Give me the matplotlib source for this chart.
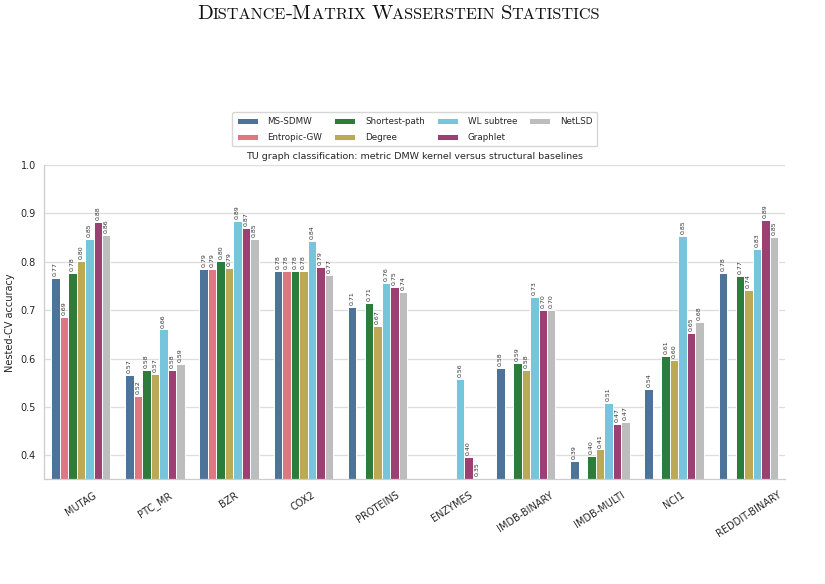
import numpy as np
import matplotlib
matplotlib.use("Agg")
import matplotlib.pyplot as plt
import seaborn as sns

datasets = ["MUTAG", "PTC_MR", "BZR", "COX2", "PROTEINS", "ENZYMES",
            "IMDB-BINARY", "IMDB-MULTI", "NCI1", "REDDIT-BINARY"]
methods = ["MS-SDMW", "Entropic-GW", "Shortest-path", "Degree",
           "WL subtree", "Graphlet", "NetLSD"]
nan = np.nan
ms_sdmw   = [0.766, 0.566, 0.785, 0.781, 0.707, nan,   0.581, 0.389, 0.537, 0.777]
entropic  = [0.686, 0.522, 0.786, 0.781, nan,   nan,   nan,   nan,   nan,   nan]
shortest  = [0.776, 0.577, 0.801, 0.781, 0.715, nan,   0.591, 0.398, 0.606, 0.771]
degree    = [0.802, 0.569, 0.788, 0.781, 0.667, nan,   0.576, 0.412, 0.597, 0.741]
wl        = [0.847, 0.660, 0.885, 0.843, 0.757, 0.558, 0.727, 0.509, 0.853, 0.826]
graphlet  = [0.883, 0.576, 0.870, 0.789, 0.748, 0.396, 0.700, 0.465, 0.652, 0.886]
netlsd    = [0.856, 0.589, 0.847, 0.772, 0.738, 0.354, 0.700, 0.469, 0.676, 0.852]
colors = ["#4e7399", "#df7782", "#2e7c3b", "#bba956", "#77c5dd", "#9c3f72", "#bdbdbd"]

sns.set_style("whitegrid")
plt.rcParams['font.family'] = ['DejaVu Sans']

fig = plt.figure(figsize=(8.25, 5.84), dpi=100)
ax = fig.add_axes([0.053, 0.179, 0.899, 0.5385])

wyniki = [ms_sdmw, entropic, shortest, degree, wl, graphlet, netlsd]
x = np.arange(len(datasets))
w = 0.8 / len(methods)
for k, (nazwa, wart) in enumerate(zip(methods, wyniki)):
    pos = x - 0.4 + w * (k + 0.5)
    wart = np.array(wart)
    ax.bar(pos, wart - 0.35, bottom=0.35, width=w, color=colors[k],
           edgecolor="white", linewidth=0.7, label=nazwa)
    for xi, v in zip(pos, wart):
        if not np.isnan(v):
            ax.text(xi, v + 0.004, f"{v:.2f}", rotation=90, ha="center",
                    va="bottom", fontsize=4.5, color="#333333")

ax.set_xlim(-0.5, len(datasets) - 0.5)
ax.set_ylim(0.35, 1.0)
ax.set_yticks([0.4, 0.5, 0.6, 0.7, 0.8, 0.9, 1.0])
ax.set_xticks(x)
ax.set_xticklabels(datasets, rotation=33, ha="center", fontsize=7, color="#262626")
ax.tick_params(axis="y", labelsize=7, colors="#262626", pad=2)
ax.tick_params(axis="x", pad=4)
ax.set_ylabel("Nested-CV accuracy", fontsize=7, color="#262626", labelpad=4)
ax.grid(axis="x", visible=False)
ax.grid(axis="y", color="#dddddd", linewidth=0.9)
ax.set_axisbelow(True)
for s in ["top", "right"]:
    ax.spines[s].set_visible(False)
for s in ["left", "bottom"]:
    ax.spines[s].set_color("#cccccc")
    ax.spines[s].set_linewidth(0.9)
ax.set_title("TU graph classification: metric DMW kernel versus structural baselines",
             fontsize=6.8, color="#262626", pad=4)
ax.legend(ncol=4, loc="lower center", bbox_to_anchor=(0.5, 1.045), fontsize=6.3,
          frameon=True, edgecolor="#cccccc", handlelength=2.4, columnspacing=1.4,
          handletextpad=1.1, borderpad=0.55, labelspacing=0.75)

# tytul strony - kapitaliki
czesci = [("D", 1), ("ISTANCE", 0), ("-M", 1), ("ATRIX ", 0), ("W", 1),
          ("ASSERSTEIN ", 0), ("S", 1), ("TATISTICS", 0)]
y_base = 1 - 19 / 584
poprz = None
for tekst, duzy in czesci:
    fs = 14.9 if duzy else 11.7
    if poprz is None:
        poprz = fig.text(197 / 825, y_base, tekst, fontsize=fs, family="cmr10",
                         ha="left", va="baseline", color="#111111")
    else:
        poprz = ax.annotate(tekst, xy=(1, y_base), xycoords=(poprz, "figure fraction"),
                            fontsize=fs, family="cmr10", ha="left", va="baseline",
                            color="#111111", annotation_clip=False)

fig.savefig("out.png", dpi=100)
